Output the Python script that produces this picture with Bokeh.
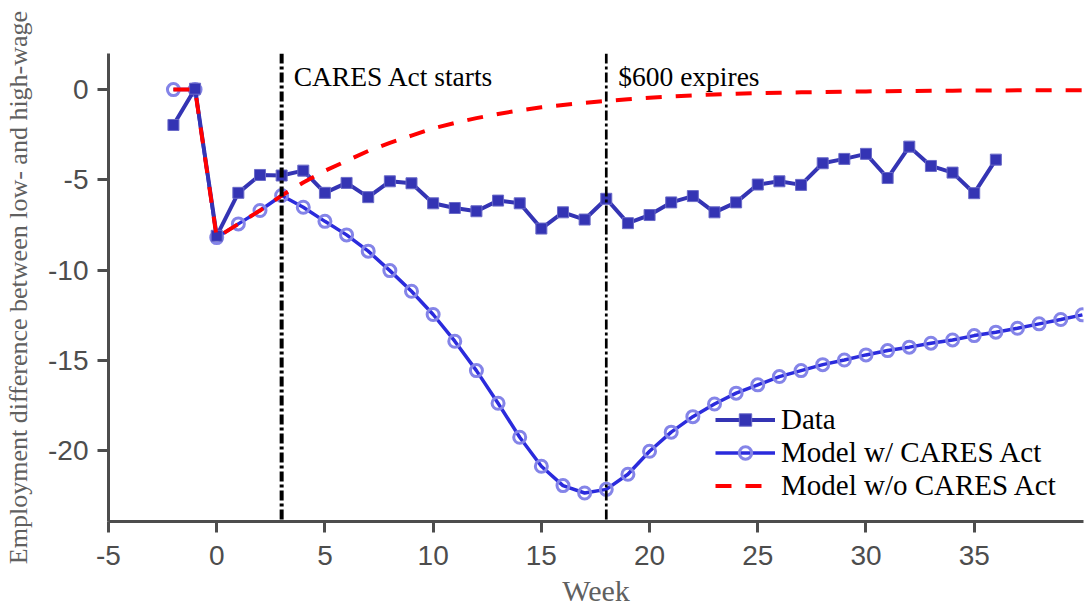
from bokeh.plotting import figure
from bokeh.models import Range1d, FixedTicker, Span, Label, Legend, LegendItem
from bokeh.core.properties import value
from bokeh.embed import file_html
from bokeh.resources import INLINE

# ---- data ----
weeks_data = list(range(-2, 37))
data_vals = [-1.96, 0.05, -8.1, -5.72, -4.73, -4.76, -4.49, -5.72, -5.17, -5.96,
             -5.08, -5.19, -6.3, -6.56, -6.74, -6.15, -6.3, -7.7, -6.8, -7.2,
             -6.05, -7.4, -6.95, -6.25, -5.9, -6.8, -6.25, -5.26, -5.08, -5.28,
             -4.08, -3.84, -3.56, -4.9, -3.16, -4.23, -4.6, -5.74, -3.88]

weeks_model = list(range(-2, 41))
model_cares = [0.0, 0.0, -8.2, -7.44, -6.7, -5.87, -6.52, -7.3, -8.05, -8.95,
               -10.03, -11.17, -12.46, -13.94, -15.57, -17.38, -19.26, -20.87, -21.94, -22.35,
               -22.15, -21.31, -20.04, -18.98, -18.12, -17.42, -16.82, -16.36, -15.9, -15.57,
               -15.24, -14.98, -14.7, -14.46, -14.27, -14.05, -13.87, -13.63, -13.44, -13.22,
               -12.98, -12.74, -12.48]
model_nocares = [0.0, 0.0, -8.2, -7.44, -6.7, -5.87, -5.15, -4.5, -3.95, -3.4,
                 -2.95, -2.55, -2.15, -1.85, -1.58, -1.35, -1.15, -0.98, -0.85, -0.73,
                 -0.63, -0.53, -0.45, -0.38, -0.32, -0.27, -0.23, -0.2, -0.17, -0.15,
                 -0.13, -0.11, -0.1, -0.09, -0.08, -0.07, -0.06, -0.05, -0.05, -0.04,
                 -0.04, -0.03, -0.03]

event_weeks = [3, 18]
event_labels = ["CARES Act starts", "$600 expires"]

x_ticks = [-5, 0, 5, 10, 15, 20, 25, 30, 35]
x_tick_labels = ["-5", "0", "5", "10", "15", "20", "25", "30", "35"]
y_ticks = [-20, -15, -10, -5, 0]
y_tick_labels = ["-20", "-15", "-10", "-5", "0"]

series_names = ["Data", "Model w/ CARES Act", "Model w/o CARES Act"]
x_label = "Week"
y_label = "Employment difference between low- and high-wage"

# ---- figure ----
XMIN, XMAX = -5, 40.05
YMIN, YMAX = -23.93, 2.0
SERIF = "Liberation Serif"
SANS = "Liberation Sans"
AX = "#4d4d4d"

p = figure(width=1084, height=609, output_backend="svg", toolbar_location=None,
           x_range=Range1d(XMIN, XMAX), y_range=Range1d(YMIN, YMAX),
           min_border_left=108, min_border_right=1, min_border_top=53, min_border_bottom=88)
p.outline_line_color = None
p.grid.visible = False
p.background_fill_color = "white"
p.border_fill_color = "white"

for ax in (p.xaxis[0], p.yaxis[0]):
    ax.axis_line_color = AX
    ax.axis_line_width = 3
    ax.major_tick_line_color = AX
    ax.major_tick_line_width = 3
    ax.major_tick_out = 11
    ax.major_tick_in = 0
    ax.minor_tick_line_color = None
    ax.major_label_text_font = SANS
    ax.major_label_text_font_size = "28px"
    ax.major_label_text_color = AX
    ax.axis_label_text_font = SERIF
    ax.axis_label_text_font_style = "normal"
    ax.axis_label_text_color = "#606060"

p.xaxis.ticker = FixedTicker(ticks=x_ticks)
p.xaxis.major_label_overrides = dict(zip(x_ticks, x_tick_labels))
p.xaxis.major_label_standoff = 13
p.xaxis.axis_label = x_label
p.xaxis.axis_label_text_font_size = "30px"
p.xaxis.axis_label_standoff = 6

p.yaxis.ticker = FixedTicker(ticks=y_ticks)
p.yaxis.major_label_overrides = dict(zip(y_ticks, y_tick_labels))
p.yaxis.major_label_standoff = 9
p.yaxis.axis_label = y_label
p.yaxis.axis_label_text_font_size = "26px"
p.yaxis.axis_label_standoff = 12

# vertical event lines
p.add_layout(Span(location=event_weeks[0], dimension="height", line_color="black",
                  line_width=4, line_dash="10 3 3 3"))
p.add_layout(Span(location=event_weeks[1], dimension="height", line_color="black",
                  line_width=2.7, line_dash="10 3 3 3"))
for wk, lab in zip(event_weeks, event_labels):
    p.add_layout(Label(x=wk, y=YMAX - 1.25, x_offset=12, text=lab, text_align="left",
                       text_baseline="middle", text_font=SERIF, text_font_size="27.5px",
                       text_color="black"))

# series
DATA_C = "#3434b4"
MODEL_C = "#2b2bdc"
CIRC_C = "#8484e8"

r_ml = p.line(weeks_model, model_cares, line_color=MODEL_C, line_width=3.5)
r_mc = p.scatter(weeks_model, model_cares, marker="circle", size=12, fill_color=None,
                 line_color=CIRC_C, line_width=3)
r_dl = p.line(weeks_data, data_vals, line_color=DATA_C, line_width=4)
r_ds = p.scatter(weeks_data, data_vals, marker="square", size=11, fill_color=DATA_C,
                 line_color="#6a6ac8", line_width=1)
r_nc = p.line(weeks_model, model_nocares, line_color="#ff0000", line_width=4,
              line_dash="16 14")

legend = Legend(items=[
    LegendItem(label=series_names[0], renderers=[r_dl, r_ds]),
    LegendItem(label=series_names[1], renderers=[r_ml, r_mc]),
    LegendItem(label=series_names[2], renderers=[r_nc]),
], location=(607, 19), orientation="vertical")
legend.border_line_color = None
legend.background_fill_alpha = 0
legend.label_text_font = SERIF
legend.label_text_font_size = "29px"
legend.label_text_color = "black"
legend.glyph_width = 60
legend.glyph_height = 31
legend.label_height = 31
legend.label_standoff = 6
legend.spacing = 0
legend.padding = 0
legend.margin = 0
p.add_layout(legend)

open("out.html", "w").write(file_html(p, INLINE))
